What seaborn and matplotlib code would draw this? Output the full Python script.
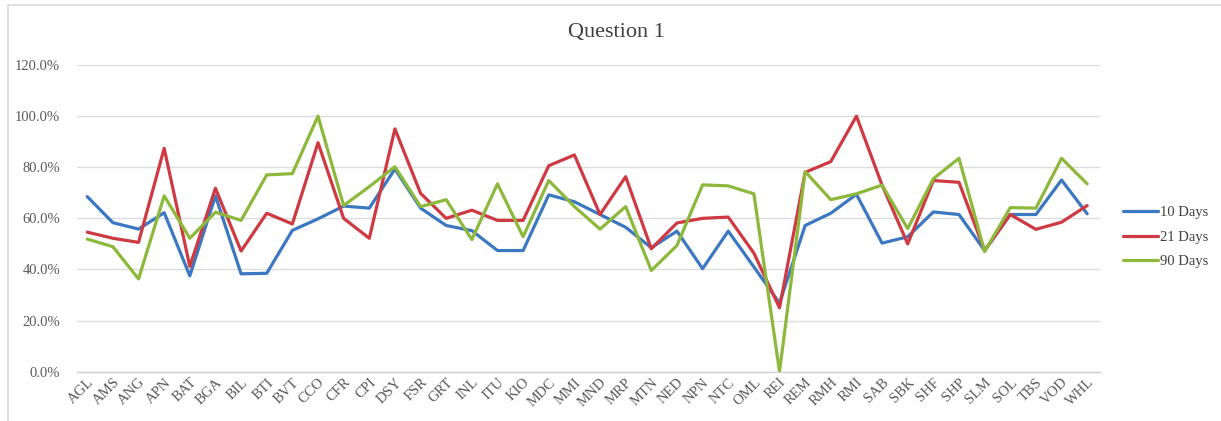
import numpy as np
import pandas as pd
import matplotlib
matplotlib.use("Agg")
import matplotlib.pyplot as plt
import seaborn as sns
from matplotlib.ticker import PercentFormatter
from matplotlib.patches import Rectangle

categories = ["AGL", "AMS", "ANG", "APN", "BAT", "BGA", "BIL", "BTI", "BVT", "CCO",
              "CFR", "CPI", "DSY", "FSR", "GRT", "INL", "ITU", "KIO", "MDC", "MMI",
              "MND", "MRP", "MTN", "NED", "NPN", "NTC", "OML", "REI", "REM", "RMH",
              "RMI", "SAB", "SBK", "SHF", "SHP", "SLM", "SOL", "TBS", "VOD", "WHL"]

days_10 = [68.5, 58.3, 55.8, 62.2, 37.5, 68.8, 38.3, 38.5, 55.3, 59.8,
           64.8, 64.0, 79.3, 64.0, 57.2, 55.2, 47.4, 47.4, 69.2, 66.5,
           61.5, 56.5, 48.5, 55.0, 40.3, 55.0, 41.0, 26.8, 57.2, 62.0,
           69.4, 50.3, 52.8, 62.5, 61.5, 47.4, 61.5, 61.5, 75.0, 61.8]

days_21 = [54.6, 52.2, 50.6, 87.4, 41.2, 71.8, 47.2, 62.0, 57.8, 89.6,
           60.0, 52.2, 95.0, 69.8, 60.0, 63.2, 59.2, 59.2, 80.6, 84.8,
           61.5, 76.3, 48.1, 58.2, 60.0, 60.5, 46.4, 25.0, 78.0, 82.2,
           100.0, 73.0, 50.0, 74.8, 74.1, 47.4, 61.5, 55.7, 58.5, 65.0]

days_90 = [51.9, 48.9, 36.3, 68.8, 52.2, 62.4, 59.2, 77.0, 77.5, 100.0,
           65.0, 72.4, 80.2, 64.6, 67.3, 51.7, 73.5, 52.8, 74.8, 64.6,
           55.8, 64.6, 39.6, 49.4, 73.1, 72.7, 69.6, 0.0, 78.3, 67.3,
           69.6, 73.0, 56.0, 75.5, 83.5, 47.0, 64.2, 64.0, 83.5, 73.5]

series_names = ["10 Days", "21 Days", "90 Days"]
series_colors = ["#3b78c1", "#cf3a42", "#8cb83c"]

frames = []
for name, vals in zip(series_names, [days_10, days_21, days_90]):
    frames.append(pd.DataFrame({"pos": np.arange(len(categories)),
                                "code": categories,
                                "share": vals,
                                "series": name}))
df = pd.concat(frames, ignore_index=True)

sns.set_theme(style="white")
plt.rcParams["font.family"] = ["Liberation Serif", "DejaVu Serif"]

fig = plt.figure(figsize=(12.21, 4.21), dpi=100)
ax = fig.add_axes([77 / 1221, 1 - 371.7 / 421, (1100 - 77) / 1221, (371.7 - 65) / 421])

sns.lineplot(data=df, x="pos", y="share", hue="series", hue_order=series_names,
             palette=series_colors, linewidth=2.3, sort=False, ax=ax,
             estimator=None, legend=True)

ax.set_ylim(0, 120)
ax.set_xlim(-0.4, len(categories) - 0.5)
ax.set_yticks(np.arange(0, 121, 20))
ax.yaxis.set_major_formatter(PercentFormatter(decimals=1))
ax.set_xticks(np.arange(len(categories)))
ax.set_xticklabels(categories, rotation=45, ha="right", rotation_mode="anchor")
ax.tick_params(axis="x", length=0, pad=3, labelsize=10.5, labelcolor="#5a5a5a")
ax.tick_params(axis="y", length=0, pad=12, labelsize=10.5, labelcolor="#5a5a5a")
ax.set_xlabel("")
ax.set_ylabel("")
ax.grid(axis="y", color="#dcdcdc", linewidth=1.0)
ax.set_axisbelow(True)
for side in ["top", "right", "left"]:
    ax.spines[side].set_visible(False)
ax.spines["bottom"].set_color("#d0d0d0")
ax.spines["bottom"].set_linewidth(1.0)

fig.text(616 / 1221, 1 - 33 / 421, "Question 1", ha="center", va="center",
         fontsize=16, color="#404040")

handles, labels = ax.get_legend_handles_labels()
ax.legend(handles, labels, loc="center left", bbox_to_anchor=(1110 / 1221, 1 - 237 / 421),
          bbox_transform=fig.transFigure, frameon=False, fontsize=10.5,
          handlelength=2.4, handletextpad=0.15, labelspacing=0.75, labelcolor="#404040")

# light frame around the chart area
fig.patches.append(Rectangle((8 / 1221, -0.02), 1.02, 1 - 5 / 421 + 0.02,
                             transform=fig.transFigure, fill=False,
                             edgecolor="#d9d9d9", linewidth=1.2, zorder=0))

fig.savefig("out.png", dpi=100, facecolor="white")
